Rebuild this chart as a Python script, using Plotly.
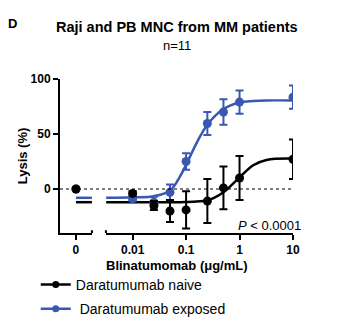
import plotly.graph_objects as go

# ---- data ----
conc = [0.01, 0.025, 0.05, 0.1, 0.25, 0.5, 1, 10]
naive_zero = [0]
naive_mean = [-4, -15, -20, -19, -11, 1, 10, 27]
naive_err = [2, 4, 10, 17, 20, 19.5, 20, 18]
exposed_zero = [0]
exposed_mean = [-9, -12, -3, 25, 59.5, 70, 79, 83.5]
exposed_err = [2, 5, 7, 7.5, 10.5, 11.5, 10.5, 10.5]

# fitted curves
fit_x = [0.0032, 0.01, 0.025, 0.05, 0.078, 0.1, 0.158, 0.25, 0.5, 1, 1.8, 3.2, 10]
fit_exposed = [-8, -7.5, -6.5, -1.5, 12, 22, 42, 58.5, 72.7, 78.7, 80, 80.5, 80.5]
fit_naive = [-12, -12, -12, -12, -12, -11.8, -11.3, -10.5, -3, 10.5, 21.6, 26.4, 27.6]
bottom_exposed = [-8, -8]
bottom_naive = [-12, -12]
bottom_x = [0, 1]

xticks_main = [0.01, 0.1, 1, 10]
xtick_labels_main = ["0.01", "0.1", "1", "10"]
yticks = [0, 50, 100]

BLUE = "#3A57B2"
BLACK = "#000000"
FONT = "Liberation Sans, Arial, sans-serif"

fig = go.Figure()

# curves
for fx, fy, bx, by, c in [(fit_x, fit_exposed, bottom_x, bottom_exposed, BLUE),
                          (fit_x, fit_naive, bottom_x, bottom_naive, BLACK)]:
    fig.add_trace(go.Scatter(x=fx, y=fy, mode="lines", line=dict(color=c, width=2.5, shape="spline"),
                             xaxis="x2", yaxis="y", showlegend=False, hoverinfo="skip"))
    fig.add_trace(go.Scatter(x=bx, y=by, mode="lines", line=dict(color=c, width=2.5),
                             xaxis="x", yaxis="y", showlegend=False, hoverinfo="skip"))

# points
for xs, ys, es, z, c in [(conc, exposed_mean, exposed_err, exposed_zero, BLUE),
                         (conc, naive_mean, naive_err, naive_zero, BLACK)]:
    fig.add_trace(go.Scatter(x=xs, y=ys, mode="markers", marker=dict(color=c, size=9),
                             error_y=dict(type="data", array=es, color=c, thickness=2, width=4),
                             xaxis="x2", yaxis="y", showlegend=False))
    fig.add_trace(go.Scatter(x=[0], y=z, mode="markers", marker=dict(color=c, size=9),
                             xaxis="x", yaxis="y", showlegend=False))

# legend entries
fig.add_trace(go.Scatter(x=[None], y=[None], mode="lines+markers", name="Daratumumab naive",
                         line=dict(color=BLACK, width=2.5), marker=dict(color=BLACK, size=7),
                         legendgroup="a"))
fig.add_trace(go.Scatter(x=[None], y=[None], mode="lines+markers", name="\u00a0Daratumumab exposed",
                         line=dict(color=BLUE, width=2.5), marker=dict(color=BLUE, size=7),
                         legendgroup="b"))

axis_common = dict(showline=True, linecolor="black", linewidth=2, ticks="outside",
                   ticklen=5, tickwidth=2, tickcolor="black", showgrid=False, zeroline=False,
                   tickfont=dict(family=FONT, size=12, color="black", weight="bold"))

fig.update_layout(
    width=363, height=332,
    margin=dict(l=60, r=70, t=79, b=99, autoexpand=False),
    paper_bgcolor="white", plot_bgcolor="white",
    font=dict(family=FONT, color="black"),
    xaxis=dict(domain=[0, 0.137], range=[-1, 1], tickvals=[0], ticktext=["0"],
               anchor="y", **axis_common),
    xaxis2=dict(domain=[0.197, 1], type="log", range=[-2.5, 1], tickvals=xticks_main,
                ticktext=xtick_labels_main, anchor="y", **axis_common),
    yaxis=dict(range=[-40, 100], tickvals=yticks, anchor="x",
               title=dict(text="Lysis (%)", font=dict(family=FONT, size=13, color="black", weight="bold"),
                          standoff=0),
               **axis_common),
    legend=dict(x=-0.104, y=-0.233, xanchor="left", yanchor="top", traceorder="grouped",
                tracegroupgap=3, font=dict(family=FONT, size=14, color="black"),
                bgcolor="rgba(0,0,0,0)"),
    shapes=[
        dict(type="line", xref="paper", yref="y", x0=0, x1=1, y0=0, y1=0,
             line=dict(color="black", width=1.2, dash="dot")),
        dict(type="line", xref="x domain", yref="y", x0=1, x1=1, y0=-42.5, y1=-37.5,
             line=dict(color="black", width=2)),
        dict(type="line", xref="x2 domain", yref="y", x0=0, x1=0, y0=-42.5, y1=-37.5,
             line=dict(color="black", width=2)),
    ],
    annotations=[
        dict(text="D", xref="paper", yref="paper", x=-0.203, y=1.36, xanchor="center", yanchor="middle",
             showarrow=False, font=dict(family=FONT, size=13, color="black", weight="bold")),
        dict(text="Raji and PB MNC from MM patients", xref="paper", yref="paper", x=0.5, y=1.335,
             xanchor="center", yanchor="middle", showarrow=False,
             font=dict(family=FONT, size=14.5, color="black", weight="bold")),
        dict(text="n=11", xref="paper", yref="paper", x=0.5, y=1.22,
             xanchor="center", yanchor="middle", showarrow=False,
             font=dict(family=FONT, size=13, color="black")),
        dict(text="Blinatumomab (\u03bcg/mL)", xref="paper", yref="paper", x=0.5, y=-0.212,
             xanchor="center", yanchor="middle", showarrow=False,
             font=dict(family=FONT, size=13, color="black", weight="bold")),
        dict(text="<i>P</i> < 0.0001", xref="paper", yref="y", x=1.043, y=-33.5,
             xanchor="right", yanchor="middle", showarrow=False,
             font=dict(family=FONT, size=13, color="black")),
    ],
)

fig.write_html("out.html")
